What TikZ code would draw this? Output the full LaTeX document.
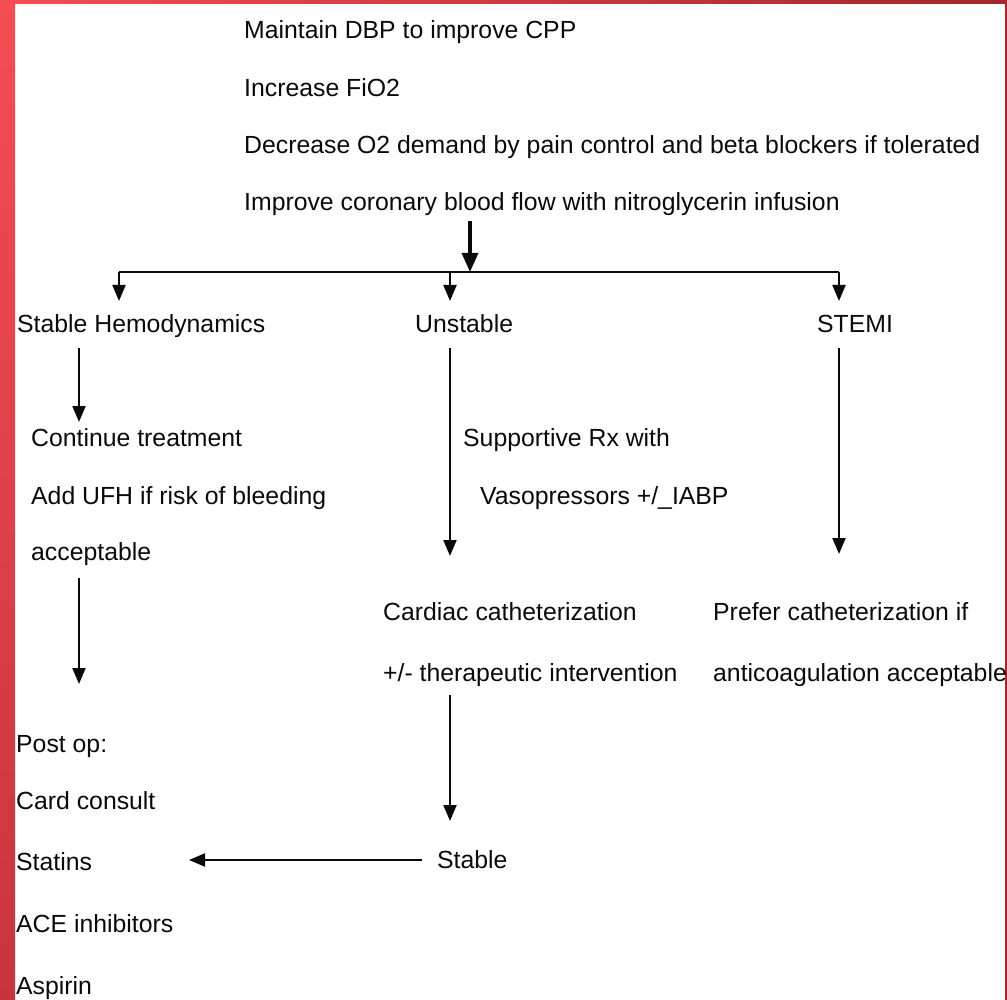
\documentclass[tikz,border=0pt]{standalone}
\usepackage{fontspec}
\setmainfont{Liberation Sans}
\usetikzlibrary{arrows.meta}
\definecolor{redA}{RGB}{246,76,84}
\definecolor{redB}{RGB}{200,52,62}
\definecolor{redC}{RGB}{165,38,44}
\definecolor{ink}{RGB}{10,10,10}
\begin{document}
\begin{tikzpicture}[x=1pt,y=-1pt,
  txt/.style={anchor=base west,inner sep=0pt,text=ink,font=\fontsize{24.8}{28}\selectfont},
  arr/.style={draw=ink,line width=2.2pt,-{Triangle[length=16pt,width=13pt]}},
  bigarr/.style={draw=ink,line width=3.4pt,-{Triangle[length=19pt,width=16pt]}},
  ln/.style={draw=ink,line width=2.2pt}]
\useasboundingbox (0,0) rectangle (1007,1000);
\fill[white] (0,0) rectangle (1007,1000);
\shade[top color=redA,bottom color=redB] (0,0) rectangle (15,1000);
\shade[left color=redA,right color=redC] (0,0) rectangle (1007,4);
\fill[redC] (1005,0) rectangle (1007,1000);

% top text
\node[txt] (t1) at (244,39) {Maintain DBP to improve CPP};
\node[txt] (t2) at (244,97) {Increase FiO2};
\node[txt] (t3) at (244,154) {Decrease O2 demand by pain control and beta blockers if tolerated};
\node[txt] (t4) at (244,211) {Improve coronary blood flow with nitroglycerin infusion};

% level 2
\node[txt] (sh) at (17,333) {Stable Hemodynamics};
\node[txt] (un) at (415,333) {Unstable};
\node[txt] (st) at (817,333) {STEMI};

% branch texts
\node[txt] (c1) at (31,446) {Continue treatment};
\node[txt] (c2) at (31,504) {Add UFH if risk of bleeding};
\node[txt] (c3) at (31,560) {acceptable};
\node[txt] (s1) at (463,446) {Supportive Rx with};
\node[txt] (s2) at (480,504) {Vasopressors +/\_IABP};
\node[txt] (k1) at (383,620) {Cardiac catheterization};
\node[txt] (k2) at (383,681) {+/- therapeutic intervention};
\node[txt] (p1) at (713,620) {Prefer catheterization if};
\node[txt] (p2) at (713,681) {anticoagulation acceptable};
\node[txt] (sb) at (437,868) {Stable};

% post op
\node[txt] (po) at (16,752) {Post op:};
\node[txt] (cc) at (16,809) {Card consult};
\node[txt] (sa) at (16,870) {Statins};
\node[txt] (ac) at (16,932) {ACE inhibitors};
\node[txt] (as) at (16,994) {Aspirin};

% coordinates
\coordinate (topS) at (470,221);
\coordinate (topE) at (470,272);
\coordinate (hL) at (119,272);
\coordinate (hM) at (450,272);
\coordinate (hR) at (839,272);
\coordinate (hLe) at (119,301);
\coordinate (hMe) at (450,301);
\coordinate (hRe) at (839,301);
\coordinate (a1s) at (79,348);
\coordinate (a1e) at (79,422);
\coordinate (a2s) at (79,578);
\coordinate (a2e) at (79,684);
\coordinate (a3s) at (450,348);
\coordinate (a3e) at (450,556);
\coordinate (a4s) at (839,348);
\coordinate (a4e) at (839,554);
\coordinate (a5s) at (450,695);
\coordinate (a5e) at (450,821);
\coordinate (a6s) at (422,860);
\coordinate (a6e) at (189,860);

\draw[bigarr] (topS) -- (topE);
\draw[ln] (hL) -- (hR);
\draw[arr] (hL) -- (hLe);
\draw[arr] (hM) -- (hMe);
\draw[arr] (hR) -- (hRe);
\draw[arr] (a1s) -- (a1e);
\draw[arr] (a2s) -- (a2e);
\draw[arr] (a3s) -- (a3e);
\draw[arr] (a4s) -- (a4e);
\draw[arr] (a5s) -- (a5e);
\draw[arr] (a6s) -- (a6e);
\end{tikzpicture}
\end{document}
